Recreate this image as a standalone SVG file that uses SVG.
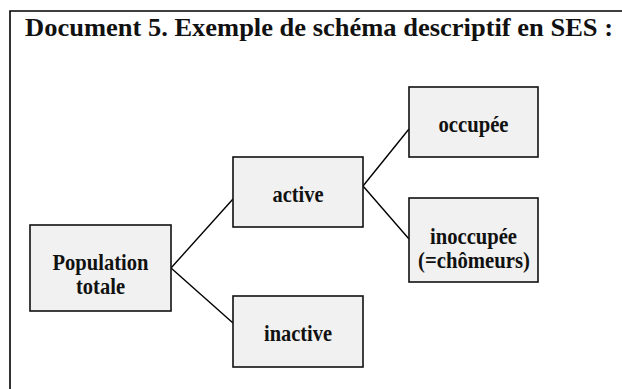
<svg xmlns="http://www.w3.org/2000/svg" width="622" height="389" viewBox="0 0 622 389">
  <style>
    .frame { fill: none; stroke: #000; stroke-width: 1.6; }
    .box { fill: #f1f1f1; stroke: #111; stroke-width: 1.6; }
    .link { fill: none; stroke: #000; stroke-width: 1.4; }
    text { font-family: "Liberation Serif", "Times New Roman", serif; font-weight: bold; fill: #111; }
    .title { font-size: 25px; }
    .lbl { font-size: 23.5px; text-anchor: middle; }
  </style>
  <rect width="622" height="389" fill="#fff"/>
  <!-- outer frame: top and left edges -->
  <path class="frame" d="M10,389 V11 H622"/>
  <text class="title" x="25" y="36" textLength="588" lengthAdjust="spacingAndGlyphs">Document 5. Exemple de schéma descriptif en SES :</text>

  <g id="connectors">
    <line class="link" x1="171" y1="268" x2="233" y2="199"/>
    <line class="link" x1="171" y1="268" x2="233" y2="323"/>
    <line class="link" x1="363" y1="186" x2="409" y2="129"/>
    <line class="link" x1="363" y1="186" x2="409" y2="239"/>
  </g>

  <g id="population">
    <rect class="box" x="30" y="225" width="141" height="86"/>
    <text class="lbl" x="100.5" y="270" textLength="96" lengthAdjust="spacingAndGlyphs">Population</text>
    <text class="lbl" x="100.5" y="294" textLength="49" lengthAdjust="spacingAndGlyphs">totale</text>
  </g>
  <g id="active">
    <rect class="box" x="233" y="157" width="130" height="70"/>
    <text class="lbl" x="298" y="202" textLength="51" lengthAdjust="spacingAndGlyphs">active</text>
  </g>
  <g id="inactive">
    <rect class="box" x="233" y="296" width="130" height="71"/>
    <text class="lbl" x="298" y="341" textLength="68" lengthAdjust="spacingAndGlyphs">inactive</text>
  </g>
  <g id="occupee">
    <rect class="box" x="409" y="87" width="129" height="70"/>
    <text class="lbl" x="473.5" y="132" textLength="70" lengthAdjust="spacingAndGlyphs">occupée</text>
  </g>
  <g id="inoccupee">
    <rect class="box" x="409" y="198" width="129" height="84"/>
    <text class="lbl" x="473.5" y="244" textLength="87" lengthAdjust="spacingAndGlyphs">inoccupée</text>
    <text class="lbl" x="474" y="268" textLength="112" lengthAdjust="spacingAndGlyphs">(=chômeurs)</text>
  </g>
</svg>
